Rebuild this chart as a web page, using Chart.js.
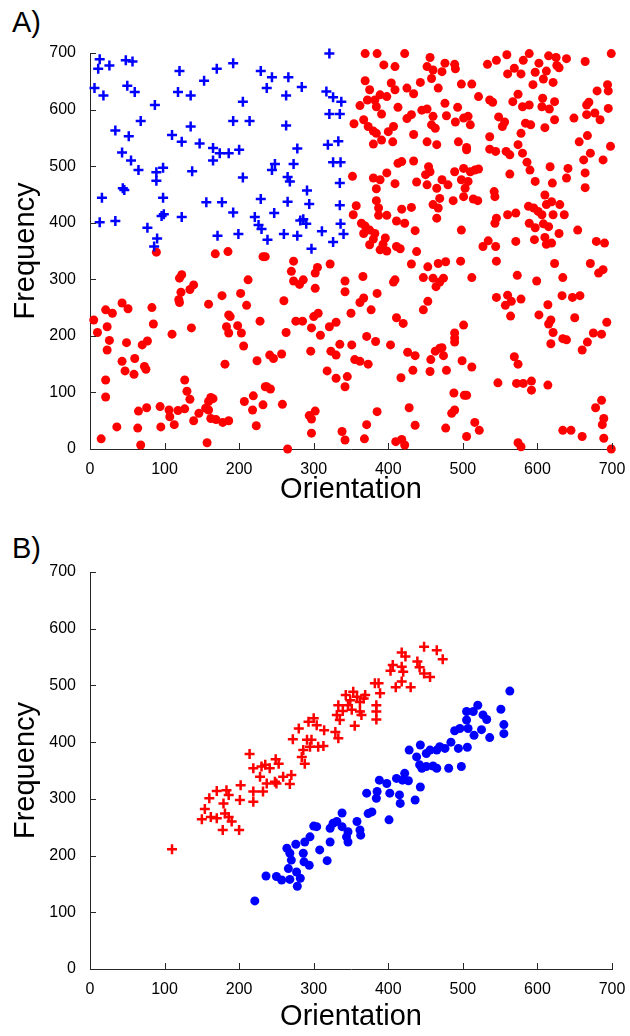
<!DOCTYPE html>
<html><head><meta charset="utf-8">
<script src="https://cdn.jsdelivr.net/npm/chart.js@4.4.1/dist/chart.umd.min.js"></script>
<style>
html,body{margin:0;padding:0;background:#fff;width:630px;height:1036px;overflow:hidden;position:relative;}
canvas{position:absolute;left:0;}
#ca{top:0;} #cb{top:520px;}
.lab{position:absolute;left:12px;font-family:"Liberation Sans",Arial,sans-serif;font-size:29px;line-height:29px;color:#000;}
</style></head><body>
<div class="lab" style="top:8px">A)</div>
<div class="lab" style="top:534px">B)</div>
<canvas id="ca" width="630" height="520"></canvas>
<canvas id="cb" width="630" height="516"></canvas>
<script>
// ---- data (Orientation, Frequency) ----
const tickValues = [0,100,200,300,400,500,600,700];
const xTitle = 'Orientation';
const yTitle = 'Frequency';

const panelA_blue = [[13,689],[11,672],[26,678],[48,687],[57,685],[120,668],[170,672],[192,682],[229,668],
[6,638],[18,625],[50,642],[60,631],[118,631],[135,625],[153,651],[205,614],[87,608],
[68,580],[34,563],[52,553],[110,555],[135,570],[123,543],[147,540],[192,580],[214,580],
[43,524],[55,510],[65,493],[89,489],[98,497],[89,474],[137,491],[165,532],[174,523],[186,523],[200,529],[165,510],[205,480],
[44,461],[46,458],[16,444],[98,444],[156,436],[177,436],[229,442],
[13,401],[34,403],[99,415],[96,412],[123,410],[192,418],[221,410],[226,396],[230,389],[77,391],[90,372],[86,358],[171,377],[199,380],
[244,657],[266,657],[237,638],[284,640],[263,625],[321,699],[317,632],[326,622],[337,614],[321,592],[335,592],[263,572],[278,531],[319,538],[333,544],[248,504],[273,504],[244,493],[326,507],[336,507],[265,481],[268,473],[291,457],[335,470],[265,437],[294,433],[247,417],[335,431],[282,404],[286,406],[290,398],[336,398],[238,370],[260,380],[278,377],[311,385],[326,366],[340,380],[297,354]];

const panelA_red = [
[369,699],[385,699],[422,699],[456,692],[394,679],[409,676],[452,676],[460,670],[458,655],[369,651],[404,647],[443,648],[375,635],[409,635],[425,638],[467,638],[389,626],[398,623],[382,617],[434,628],[372,617],[362,607],[384,605],[413,604],[445,599],[452,601],[431,591],[425,584],[460,588],[391,592],[367,582],[354,575],[373,570],[407,570],[400,561],[384,558],[380,562],[458,573],[463,567],[434,556],[391,546],[380,539],[406,543],[452,543],[465,538],
[413,505],[418,508],[434,509],[398,488],[352,482],[380,479],[389,476],[384,460],[409,469],[438,472],[454,499],[456,490],[450,485],[452,467],[465,461],[384,439],[357,430],[387,426],[387,413],[398,413],[418,424],[431,427],[460,432],[467,426],[353,414],[364,399],[369,394],[411,403],[422,399],[375,387],[382,381],[436,386],[367,381],[465,408],[380,371],[396,373],[393,362],[375,361],[411,358],[416,354],[438,349],[389,352],[398,350],
[559,697],[589,699],[615,695],[625,692],[639,690],[664,685],[699,699],[533,680],[545,687],[581,687],[602,682],[569,673],[560,663],[578,663],[597,666],[612,668],[626,678],[629,674],[476,682],[489,680],[472,667],[490,672],[498,645],[512,645],[594,644],[608,654],[621,648],[521,623],[536,617],[540,613],[567,614],[574,627],[580,605],[589,608],[606,605],[607,620],[616,601],[623,614],[476,611],[493,604],[478,589],[490,578],[501,585],[507,588],[510,573],[548,587],[556,578],[553,570],[584,576],[591,573],[578,558],[610,568],[623,582],[649,585],[666,591],[669,613],[666,608],[677,594],[684,582],[695,602],[680,633],[694,644],[695,633],[536,552],[494,543],[505,533],[505,529],[536,530],[544,526],[558,526],[563,520],[574,538],[580,523],[586,507],[590,493],[563,486],[597,473],[617,499],[620,470],[641,496],[639,479],[664,488],[662,511],[671,523],[688,511],[656,543],[667,554],[698,535],[472,476],[480,467],[489,490],[501,496],[498,476],[510,490],[516,493],[521,495],[507,473],[503,461],[501,446],[469,443],[487,439],[514,442],[520,439],[542,455],[543,446],[610,449],[612,432],[619,437],[630,432],[588,429],[595,426],[601,420],[606,414],[621,414],[636,414],[560,414],[571,417],[545,408],[543,399],[589,399],[597,391],[608,398],[615,393],[664,462],[654,387],[629,381],[498,387],[534,368],[527,358],[544,358],[571,367],[596,370],[610,374],[612,362],[619,364],[679,367],[690,364],
[89,348],[168,345],[185,349],[232,340],[123,308],[120,302],[139,290],[134,282],[122,277],[119,264],[120,259],[212,299],[177,271],[202,275],[159,256],[210,254],[43,258],[51,248],[83,250],[21,246],[30,240],[5,228],[186,237],[188,234],[183,216],[186,205],[198,218],[203,205],[206,182],[228,226],[85,221],[136,214],[110,203],[23,216],[10,206],[26,192],[49,188],[70,184],[77,191],[23,175],[60,160],[43,155],[47,138],[59,132],[73,146],[75,141],[181,150],[224,156],[21,122],[21,92],[127,122],[130,102],[134,88],[162,91],[165,89],[159,84],[207,84],[219,94],[218,69],[232,78],[235,110],[65,67],[76,73],[94,75],[106,69],[107,57],[118,68],[127,71],[113,43],[95,39],[64,37],[36,39],[15,18],[68,7],[139,50],[146,63],[155,72],[159,69],[162,54],[169,52],[178,47],[186,50],[157,11],[223,41],
[235,340],[273,332],[270,314],[273,297],[281,291],[286,299],[302,311],[305,321],[322,327],[302,284],[260,262],[276,226],[285,226],[297,214],[300,234],[306,240],[309,201],[321,216],[330,224],[263,206],[296,173],[323,173],[330,166],[335,185],[351,184],[318,138],[330,125],[345,128],[342,110],[355,158],[362,155],[373,150],[371,199],[383,190],[403,184],[342,297],[342,278],[366,305],[367,267],[362,259],[385,275],[377,246],[350,240],[411,232],[420,222],[407,295],[409,299],[431,327],[447,303],[453,322],[460,302],[464,287],[469,295],[453,261],[447,246],[237,110],[242,106],[258,79],[294,59],[297,53],[302,67],[297,28],[338,31],[342,16],[371,43],[385,66],[368,18],[410,13],[418,17],[422,7],[428,73],[436,42],[417,126],[433,139],[456,137],[457,158],[426,171],[436,165],[463,173],[469,178],[265,0],[241,166],[246,160],[257,168],
[467,328],[477,331],[497,332],[545,332],[623,328],[671,328],[682,311],[688,317],[474,302],[512,303],[573,307],[599,297],[634,303],[545,268],[560,272],[565,261],[557,254],[578,265],[564,235],[633,271],[647,268],[657,271],[614,255],[602,237],[618,228],[615,221],[621,206],[650,232],[634,195],[639,193],[618,186],[693,224],[675,205],[686,203],[667,189],[660,175],[501,219],[489,205],[489,196],[489,189],[472,179],[474,165],[499,156],[512,145],[478,139],[569,163],[574,150],[547,117],[572,116],[581,116],[592,120],[592,104],[614,113],[488,99],[502,95],[505,95],[489,69],[485,63],[477,37],[516,47],[522,33],[505,22],[634,33],[645,33],[660,22],[686,86],[678,73],[689,54],[687,43],[689,19],[574,11],[578,4],[699,0]];

const panelB_red = [[110,211],[150,264],[154,282],[160,301],[170,314],[170,266],[162,268],
[448,568],[465,562],[473,546],[418,558],[423,551],[439,542],[442,532],[448,521],[456,515],[406,536],[403,526],[418,533],[420,524],[418,507],[410,497],[430,497],[387,504],[389,486],[382,504],[343,483],[353,489],[358,480],[369,483],[362,471],[367,477],[349,474],[346,465],[333,465],[339,455],[331,448],[351,457],[362,454],[364,448],[384,465],[384,454],[384,440],[355,429],[335,439],[329,418],[333,407],[300,442],[293,436],[304,430],[280,424],[314,421],[272,405],[297,404],[291,404],[295,392],[286,386],[306,392],[313,393],[284,374],[288,362],[214,379],[219,354],[230,357],[235,360],[241,354],[249,370],[253,362],[228,339],[248,330],[250,327],[237,327],[259,339],[270,342],[268,326],[232,313],[219,313],[202,324],[183,315],[186,307],[201,298],[179,292],[181,274],[186,268],[190,260],[219,295],[178,245],[200,245]];

const panelB_blue = [[563,490],[551,458],[520,465],[505,454],[514,454],[527,448],[532,440],[505,439],[555,431],[555,415],[536,408],[515,412],[525,422],[507,424],[496,424],[489,420],[484,400],[506,391],[494,389],[476,389],[469,392],[465,386],[456,386],[443,395],[428,386],[438,374],[451,380],[498,357],[481,354],[465,354],[460,358],[451,357],[445,354],[442,360],[422,345],[419,333],[427,332],[411,336],[398,327],[402,310],[388,333],[385,313],[371,310],[384,301],[415,307],[416,292],[436,298],[443,321],[378,277],[373,274],[401,263],[358,260],[338,275],[331,260],[326,257],[322,248],[338,251],[346,242],[344,233],[362,245],[363,236],[346,224],[322,224],[304,251],[300,252],[295,233],[288,224],[308,210],[276,220],[264,213],[268,204],[270,192],[286,204],[287,189],[294,183],[318,191],[266,177],[277,171],[250,163],[257,157],[268,158],[282,160],[278,146],[236,164],[221,120]];

// ---- rendering ----
const FONT = '"Liberation Sans", Arial, Helvetica, sans-serif';
const toPts = arr => arr.map(p => ({x: p[0], y: p[1]}));

const inwardTicks = {
  id: 'inwardTicks',
  afterDraw(chart) {
    const {ctx, chartArea: a, scales: {x, y}} = chart;
    ctx.save();
    ctx.strokeStyle = '#262626'; ctx.lineWidth = 1;
    ctx.beginPath();
    x.ticks.forEach(t => { const px = Math.round(x.getPixelForValue(t.value)) + 0.5; ctx.moveTo(px, a.bottom); ctx.lineTo(px, a.bottom - 6); });
    y.ticks.forEach(t => { const py = Math.round(y.getPixelForValue(t.value)) + 0.5; ctx.moveTo(a.left, py); ctx.lineTo(a.left + 6, py); });
    ctx.stroke();
    ctx.restore();
  }
};

function makeChart(id, datasets, topPad, xAxisHeight, xTitlePadBottom) {
  const setTicks = s => { s.ticks = tickValues.map(v => ({value: v})); };
  return new Chart(document.getElementById(id), {
    type: 'scatter',
    data: {datasets},
    options: {
      responsive: false, animation: false, events: [], devicePixelRatio: 1,
      layout: {padding: {top: topPad, right: 18, left: 0, bottom: 0}},
      plugins: {legend: {display: false}, tooltip: {enabled: false}},
      scales: {
        x: {
          type: 'linear', position: 'bottom', min: 0, max: 700,
          afterBuildTicks: setTicks,
          afterFit: s => { s.height = xAxisHeight; s.paddingLeft = 0; s.paddingRight = 0; },
          grid: {display: false},
          border: {display: true, color: '#262626', width: 1},
          ticks: {color: '#000', font: {family: FONT, size: 16}, padding: 3, maxRotation: 0, autoSkip: false},
          title: {display: true, text: xTitle, color: '#000', font: {family: FONT, size: 29, lineHeight: 1.2}, padding: {top: 0, bottom: xTitlePadBottom}}
        },
        y: {
          type: 'linear', position: 'left', min: 0, max: 700,
          afterBuildTicks: setTicks,
          afterFit: s => { s.width = 90; s.paddingTop = 0; s.paddingBottom = 0; },
          grid: {display: false},
          border: {display: true, color: '#262626', width: 1},
          ticks: {color: '#000', font: {family: FONT, size: 16}, padding: 6, autoSkip: false},
          title: {display: true, text: yTitle, color: '#000', font: {family: FONT, size: 29, lineHeight: 1.2}, padding: {top: 8.6, bottom: 0}}
        }
      }
    },
    plugins: [inwardTicks]
  });
}

const redDots = data => ({data: toPts(data), pointStyle: 'circle', pointRadius: 4.5, backgroundColor: '#ff0000', borderColor: '#ff0000', borderWidth: 0, clip: false});
const plusMarks = (data, color) => ({data: toPts(data), pointStyle: 'cross', pointRadius: 5, borderColor: color, backgroundColor: color, borderWidth: 2.5, clip: false});
const blueDots = data => ({data: toPts(data), pointStyle: 'circle', pointRadius: 4.5, backgroundColor: '#0000ff', borderColor: '#0000ff', borderWidth: 0, clip: false});

makeChart('ca', [plusMarks(panelA_blue, '#0000ff'), redDots(panelA_red)], 53, 71, 12.6);
makeChart('cb', [plusMarks(panelB_red, '#ff0000'), blueDots(panelB_blue)], 52, 67, 1.6);
</script>
</body></html>
